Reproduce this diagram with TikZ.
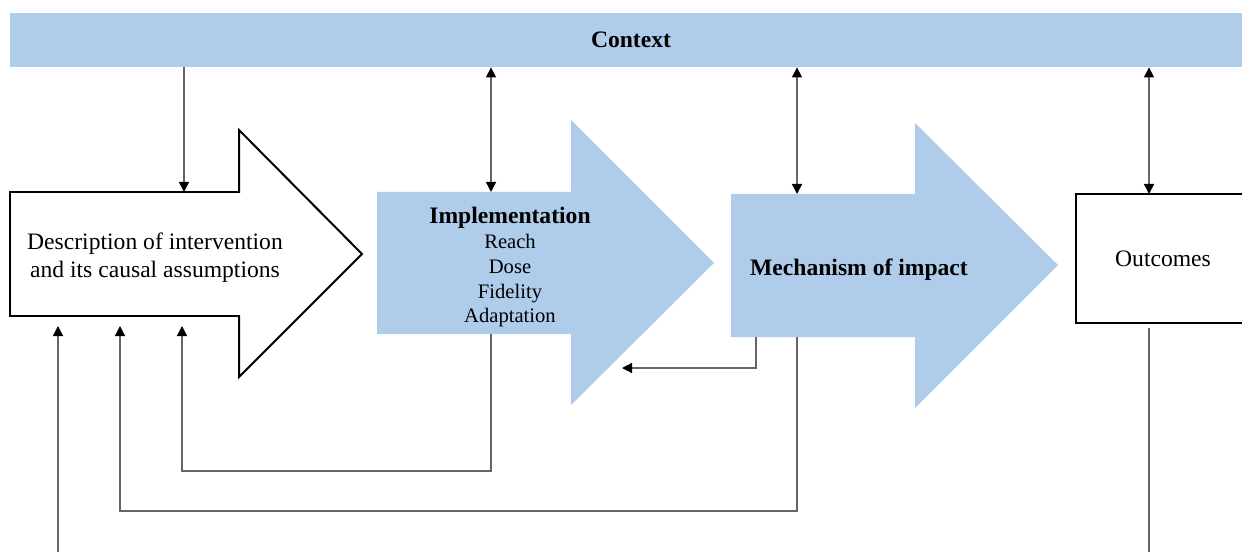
\documentclass[tikz,border=0pt]{standalone}
\usepackage{fontspec}
\setmainfont{Liberation Serif}
\usetikzlibrary{arrows.meta}
\usetikzlibrary{calc}
\definecolor{ctxblue}{RGB}{175,205,234}
\tikzset{>={Triangle[width=5bp,length=5bp,color=black]}}
\tikzset{lnk/.style={draw=black!60, line width=0.7pt}}
\tikzset{outl/.style={draw=black, line width=1pt, fill=white}}
\tikzset{bluefill/.style={fill=ctxblue, draw=none}}
\tikzset{txt/.style={inner sep=0pt, align=center, font=\fontsize{11.8bp}{13.9bp}\selectfont}}
\tikzset{txtb/.style={txt, font=\bfseries\fontsize{11.8bp}{13.9bp}\selectfont}}
\newcommand{\listsize}{\fontsize{10.3bp}{12.4bp}\selectfont}

\begin{document}
\begin{tikzpicture}[x=0.5bp,y=-0.5bp]
\useasboundingbox (0,0) rectangle (1242,552);

% context bar
\node (ctx) [bluefill, minimum width=621bp, minimum height=27bp, inner sep=0pt] at (631,40) {};
\node (ctxlbl) [txtb] at (631,40) {Context};

% the three arrows
\draw[outl] (10,192) -- (239,192) -- (239,130) -- (362,254) -- (239,377) -- (239,316) -- (10,316) -- cycle;
\fill[ctxblue] (377,192) -- (571,192) -- (571,120) -- (714,263) -- (571,405) -- (571,334) -- (377,334) -- cycle;
\fill[ctxblue] (731,194) -- (915,194) -- (915,123) -- (1058,265) -- (915,408) -- (915,337) -- (731,337) -- cycle;

\node (desc) [txt] at (155,258) {Description of intervention\\and its causal assumptions};
\node (impl) [txt, font=\listsize, anchor=north] at (510,207)
  {{\fontsize{11.8bp}{12.4bp}\selectfont\bfseries Implementation}\\Reach\\Dose\\Fidelity\\Adaptation};
\node (mech) [txtb] at (859,270) {Mechanism of impact};
\node (outc) [outl, txt, minimum width=87bp, minimum height=64.5bp] at (1163,258.5) {Outcomes};

% connector ends
\coordinate (dtop) at (184,192);
\coordinate (itop) at (491,192);
\coordinate (mtop) at (797,194);
\coordinate (otop) at (1149,194);
\coordinate (ibot) at (491,334);
\coordinate (mbot) at (797,337);
\coordinate (mbot2) at (756,337);
\coordinate (ihead) at (622,368);
\coordinate (fb1) at (182,326);
\coordinate (fb2) at (120,326);
\coordinate (fb3) at (58,326);
\coordinate (lowl) at (58,552);
\coordinate (obot) at (1149,328);
\coordinate (lowr) at (1149,552);

\draw[lnk,->] (dtop |- ctx.south) -- (dtop);
\draw[lnk,<->] (itop |- ctx.south) -- (itop);
\draw[lnk,<->] (mtop |- ctx.south) -- (mtop);
\draw[lnk,<->] (otop |- ctx.south) -- (otop);

\draw[lnk,->] (mbot2) |- (ihead);
\draw[lnk,->] (ibot) -- ++(0,137) -| (fb1);
\draw[lnk,->] (mbot) -- ++(0,174) -| (fb2);
\draw[lnk,->] (lowl) -- (fb3);
\draw[lnk] (obot) -- (lowr);
\end{tikzpicture}
\end{document}
